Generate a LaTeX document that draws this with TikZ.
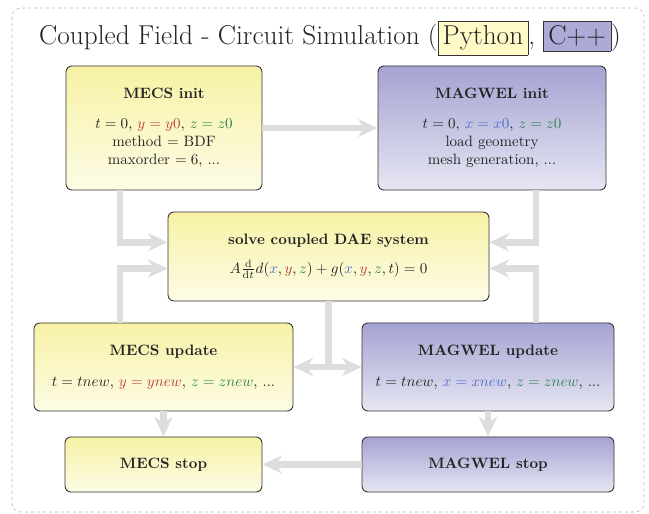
\documentclass[tikz,border=0pt]{standalone}
\usepackage{amsmath}
\usepackage{amssymb}
\usepackage{tikz}
\usetikzlibrary{calc,arrows.meta}
\definecolor{mecstop}{RGB}{247,242,165}
\definecolor{mecsbot}{RGB}{253,252,230}
\definecolor{magtop}{RGB}{165,163,210}
\definecolor{magbot}{RGB}{230,230,243}
\definecolor{pyfill}{RGB}{255,250,200}
\definecolor{cppfill}{RGB}{172,170,214}
\definecolor{xcol}{RGB}{80,110,200}
\definecolor{ycol}{RGB}{190,60,60}
\definecolor{zcol}{RGB}{45,130,75}
\definecolor{txt}{RGB}{35,35,35}
\definecolor{flowgray}{RGB}{221,221,221}
\tikzset{
	blk/.style={draw=black!80,rounded corners=4pt,align=center,text=txt,line width=0.6pt},
	mecs/.style={blk,top color=mecstop,bottom color=mecsbot},
	magwel/.style={blk,top color=magtop,bottom color=magbot},
	flow/.style={draw=flowgray,line width=4.5pt,>={Stealth[length=13pt,width=12pt,inset=4pt]},->},
}

\begin{document}
\begin{tikzpicture}[x=0.6667pt,y=-0.6667pt]
\useasboundingbox (0,0) rectangle (649,514);
\draw[gray!60,dash pattern=on 2pt off 2pt,rounded corners=6pt] (12,8) rectangle (644,512);
\node[text=txt,font=\fontsize{18.2}{22}\selectfont] (title) at (330,38) {Coupled Field - Circuit Simulation (\fcolorbox{black!80}{pyfill}{Python}, \fcolorbox{black!80}{cppfill}{C++})};

\node[mecs,minimum width=130.7pt,minimum height=82.7pt] (mecsinit) at (164,128) {\textbf{MECS init}\\[8pt]$t=0$, $\color{ycol}y=y0$, $\color{zcol}z=z0$\\method $=$ BDF\\maxorder $=6$, ...};
\node[magwel,minimum width=152pt,minimum height=82.7pt] (magwelinit) at (492,128) {\textbf{MAGWEL init}\\[8pt]$t=0$, $\color{xcol}x=x0$, $\color{zcol}z=z0$\\load geometry\\mesh generation, ...};
\node[mecs,minimum width=214pt,minimum height=59.3pt] (solve) at (328.5,256.5) {\textbf{solve coupled DAE system}\\[7pt]$A\frac{\mathrm{d}}{\mathrm{d}t}d({\color{xcol}x},{\color{ycol}y},{\color{zcol}z})+g({\color{xcol}x},{\color{ycol}y},{\color{zcol}z},t)=0$};
\node[mecs,minimum width=172.7pt,minimum height=58.7pt] (mecsup) at (163.5,367) {\textbf{MECS update}\\[9pt]$t=tnew$, $\color{ycol}y=ynew$, $\color{zcol}z=znew$, ...};
\node[magwel,minimum width=168pt,minimum height=58.7pt] (magwelup) at (488,367) {\textbf{MAGWEL update}\\[9pt]$t=tnew$, $\color{xcol}x=xnew$, $\color{zcol}z=znew$, ...};
\node[mecs,minimum width=131.3pt,minimum height=36.7pt] (mecsstop) at (163.5,464.5) {\textbf{MECS stop}};
\node[magwel,minimum width=168pt,minimum height=36.7pt] (magwelstop) at (488,464.5) {\textbf{MAGWEL stop}};

\draw[flow] (mecsinit) -- (magwelinit);
\draw[flow] ([xshift=-29.3pt]mecsinit.south) |- ([yshift=9.5pt]solve.west);
\draw[flow] ([xshift=-29pt]mecsup.north) |- ([yshift=-8pt]solve.west);
\draw[flow] ([xshift=29.3pt]magwelinit.south) |- ([yshift=9.5pt]solve.east);
\draw[flow] ([xshift=32pt]magwelup.north) |- ([yshift=-8pt]solve.east);
\draw[flow,-] (solve.south) -- (solve.south |- mecsup.east);
\draw[flow,<->] (mecsup.east) -- (magwelup.west);
\draw[flow] (mecsup) -- (mecsstop);
\draw[flow] (magwelup) -- (magwelstop);
\draw[flow] (magwelstop) -- (mecsstop);
\end{tikzpicture}
\end{document}
